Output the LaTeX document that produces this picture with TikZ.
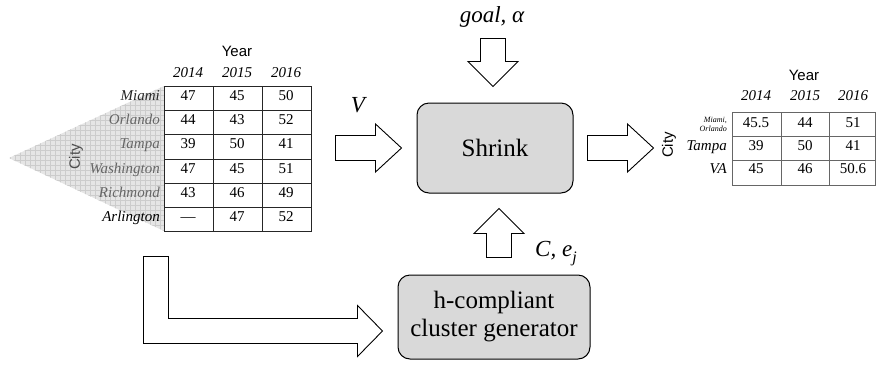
\documentclass[tikz,border=0pt]{standalone}
\usepackage{fontspec}
\setmainfont{Liberation Serif}
\setsansfont{Liberation Sans}
\usetikzlibrary{positioning, calc}

\begin{document}
\begin{tikzpicture}[x=1pt,y=-1pt,
  procbox/.style={draw, line width=1pt, fill=black!15, rounded corners=12pt, align=center, inner sep=0pt, font=\fontsize{25}{28}\selectfont},
  blockarrow/.style={draw, line width=0.9pt, fill=white, line join=miter},
  cell/.style={inner sep=0pt, anchor=base, font=\fontsize{15}{18}\selectfont},
  rowlab/.style={inner sep=0pt, anchor=base east, font=\fontsize{15}{18}\selectfont\itshape},
  yearlab/.style={inner sep=0pt, anchor=base, font=\fontsize{15}{18}\selectfont\itshape},
  axislab/.style={inner sep=0pt, font=\fontsize{15}{18}\selectfont\sffamily},
  inlab/.style={inner sep=0pt, anchor=base, font=\fontsize{23}{27}\selectfont\itshape}]

  \useasboundingbox (0,0) rectangle (876,365);

  % Hatched wedge behind the city names
  \begin{scope}
    \clip (9,158) -- (164,86) -- (164,231) -- cycle;
    \fill[black!10] (0,80) rectangle (164,236);
    \foreach \gx in {0,5,...,164} \draw[black!20, line width=0.3pt] (\gx,80) -- (\gx,236);
    \foreach \gy in {80,85,...,236} \draw[black!20, line width=0.3pt] (0,\gy) -- (164,\gy);
  \end{scope}

  % Input table
  \draw[black!85, line width=0.8pt] (164,86) rectangle (311,231);
  \foreach \ly in {110,134,159,183,207} \draw[black!85, line width=0.8pt] (164,\ly) -- (311,\ly);
  \foreach \lx in {213,262} \draw[black!85, line width=0.8pt] (\lx,86) -- (\lx,231);

  \node[axislab, anchor=base] (year-in) at (237,56) {Year};
  \node[yearlab] (y-in-1) at (188,77) {2014};
  \node[yearlab] (y-in-2) at (237,77) {2015};
  \node[yearlab] (y-in-3) at (286,77) {2016};
  \node[axislab, rotate=90, text=black!70] (city-in) at (76,157) {City};

  \foreach \city/\clr/\by/\va/\vb/\vc [count=\r] in {Miami/black!85/100.5/47/45/50,
      Orlando/black!60/124.5/44/43/52, Tampa/black!60/148.5/39/50/41,
      Washington/black!60/173.5/47/45/51, Richmond/black!60/197.5/43/46/49,
      Arlington/black/221.5/—/47/52} {
    \node[rowlab, text=\clr] (city-\r) at (160,\by) {\city};
    \node[cell] (cell-\r-1) at (188,\by) {\va};
    \node[cell] (cell-\r-2) at (237,\by) {\vb};
    \node[cell] (cell-\r-3) at (286,\by) {\vc};
  }

  % Processing boxes
  \node[procbox, minimum width=156pt, minimum height=90pt] (shrink) at (495,148) {Shrink};
  \node[procbox, minimum width=192pt, minimum height=84pt] (cgen) at (494,317) {h-compliant\\cluster generator};

  % Inputs
  \node[inlab] (goal) at (492,22) {goal, α};
  \node[inlab] (vlab) at (358,112) {V};
  \node[inlab, anchor=base west] (clab) at (535,256) {C, e\raisebox{-0.28em}{\fontsize{16}{16}\selectfont j}};

  % Block arrows
  \coordinate (goaltip) at ($(shrink.north)+(-2,-16)$);
  \coordinate (vtip) at ($(shrink.west)+(-15,0)$);
  \coordinate (outstart) at ($(shrink.east)+(14,-12.5)$);
  \coordinate (cetip) at ($(shrink.south)+(4,15)$);
  \coordinate (ltip) at ($(cgen.west)+(-15,14)$);

  \draw[blockarrow] (goaltip) -- ++(-25,-25) -- ++(12.5,0) -- ++(0,-23) -- ++(25,0) -- ++(0,23) -- ++(12.5,0) -- cycle;
  \draw[blockarrow] (vtip) -- ++(-26,-24) -- ++(0,11.5) -- ++(-40,0) -- ++(0,25) -- ++(40,0) -- ++(0,11.5) -- cycle;
  \draw[blockarrow] (outstart) -- ++(40,0) -- ++(0,-11.5) -- ++(26,24) -- ++(-26,24) -- ++(0,-11.5) -- ++(-40,0) -- cycle;
  \draw[blockarrow] (cetip) -- ++(25,25) -- ++(-12.5,0) -- ++(0,24) -- ++(-25,0) -- ++(0,-24) -- ++(-12.5,0) -- cycle;
  \draw[blockarrow] (ltip) -- ++(-25,-25.5) -- ++(0,13) -- ++(-189,0) -- ++(0,-62) -- ++(-25,0) -- ++(0,87) -- ++(214,0) -- ++(0,13) -- cycle;

  % Output table
  \draw[black!60, line width=0.8pt] (732,112) rectangle (875,185);
  \foreach \ly in {136,160} \draw[black!60, line width=0.8pt] (732,\ly) -- (875,\ly);
  \foreach \lx in {781,829} \draw[black!60, line width=0.8pt] (\lx,112) -- (\lx,185);

  \node[axislab, anchor=base] (year-out) at (804,80) {Year};
  \node[yearlab] (y-out-1) at (756,100) {2014};
  \node[yearlab] (y-out-2) at (805,100) {2015};
  \node[yearlab] (y-out-3) at (853,100) {2016};
  \node[axislab, rotate=90] (city-out) at (669,145) {City};

  \node[inner sep=0pt, anchor=east, align=right, font=\fontsize{8}{9}\selectfont\itshape] (grp-1) at (727,124) {Miami,\\Orlando};
  \node[rowlab] (grp-2) at (727,150) {Tampa};
  \node[rowlab] (grp-3) at (727,173) {VA};
  \foreach \by/\va/\vb/\vc [count=\r] in {127/45.5/44/51, 150/39/50/41, 173/45/46/50.6} {
    \node[cell] (out-\r-1) at (756,\by) {\va};
    \node[cell] (out-\r-2) at (805,\by) {\vb};
    \node[cell] (out-\r-3) at (853,\by) {\vc};
  }
\end{tikzpicture}
\end{document}
